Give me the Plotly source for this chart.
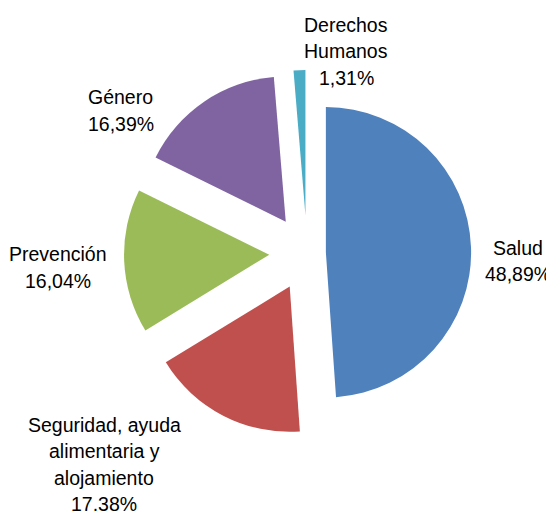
# coding: utf-8
import plotly.graph_objects as go

# datos
categorias = ['Salud', 'Seguridad, ayuda alimentaria y alojamiento',
              'Prevención', 'Género', 'Derechos Humanos']
valores = [48.89, 17.38, 16.04, 16.39, 1.31]
textos_pct = ['48,89%', '17.38%', '16,04%', '16,39%', '1,31%']
lineas_etiqueta = [['Salud'],
                   ['Seguridad, ayuda', 'alimentaria y', 'alojamiento'],
                   ['Prevención'],
                   ['Género'],
                   ['Derechos', 'Humanos']]
colores = ['#4F81BD', '#C0504D', '#9BBB59', '#8064A2', '#4BACC6']
separacion = [0.13, 0.26, 0.26, 0.26, 0.26]

# la pagina tiene 8 px de margen en el body
OFF = 8
W, H = 554 - OFF, 517 - OFF

fig = go.Figure()
fig.add_trace(go.Pie(
    labels=categorias, values=valores,
    sort=False, direction='clockwise', rotation=0,
    pull=separacion,
    marker=dict(colors=colores, line=dict(width=0)),
    textinfo='none', hoverinfo='label+percent',
    domain=dict(x=[(124 - OFF) / W, (490 - OFF) / W],
                y=[1 - (436 - OFF) / H, 1 - (70 - OFF) / H]),
    showlegend=False))

# posiciones de etiquetas en la pagina (centro x, y de la primera linea, px)
pos_etiquetas = [(518, 248.5), (104, 425.5), (58, 255.5), (121, 98.5), (346, 25.5)]
paso = 26.5

fuente = dict(family='Liberation Sans, Arial', size=19.5, color='black')
for lineas, pct, (px, py) in zip(lineas_etiqueta, textos_pct, pos_etiquetas):
    for i, t in enumerate(lineas + [pct]):
        fig.add_annotation(x=(px - OFF) / W, y=1 - (py - OFF - 1 + i * paso) / H,
                           xref='paper', yref='paper', text=t,
                           showarrow=False, xanchor='center', yanchor='middle',
                           font=fuente)

fig.update_layout(width=W, height=H,
                  margin=dict(l=0, r=0, t=0, b=0),
                  paper_bgcolor='white', plot_bgcolor='white')

fig.write_html("out.html")
